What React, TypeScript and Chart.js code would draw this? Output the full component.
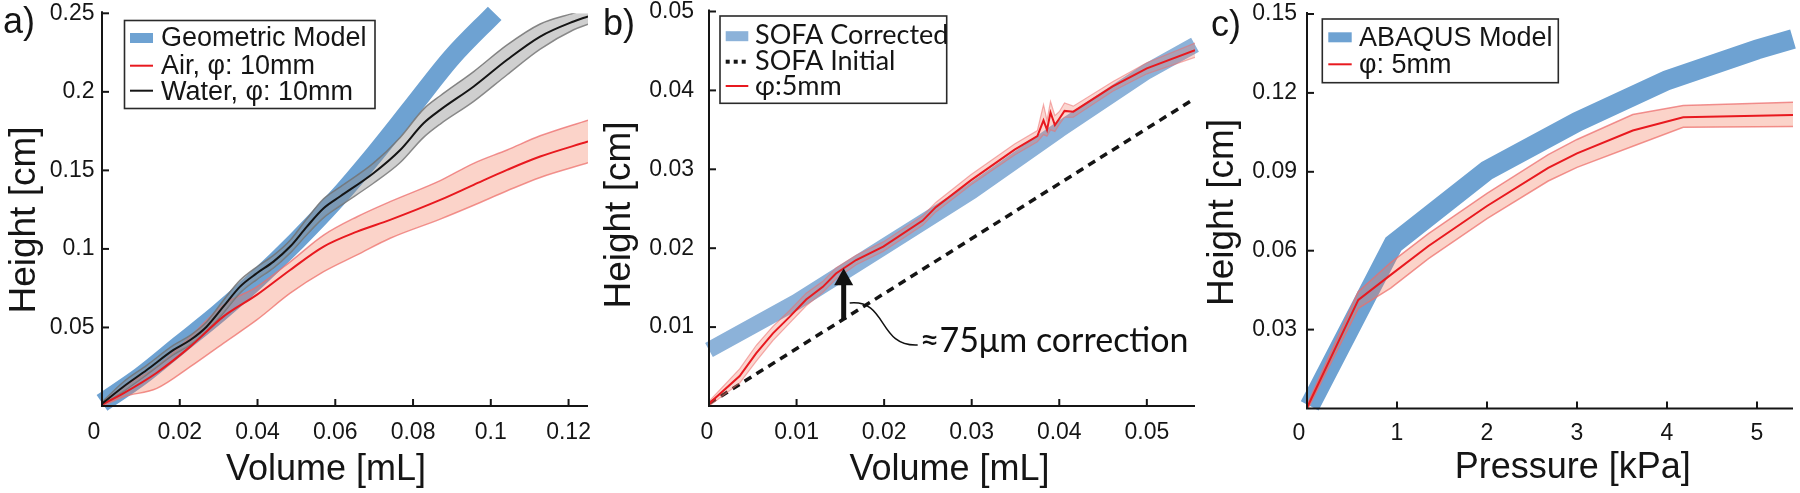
import React, { useEffect, useRef } from 'react';
import { Chart, registerables } from 'chart.js';

Chart.register(...registerables);

// ================= Panel a) =================
const A_X_TICKS = [0, 0.02, 0.04, 0.06, 0.08, 0.1, 0.12];
const A_X_LABELS = ['0', '0.02', '0.04', '0.06', '0.08', '0.1', '0.12'];
const A_Y_TICKS = [0.05, 0.1, 0.15, 0.2, 0.25];
const A_Y_LABELS = ['0.05', '0.1', '0.15', '0.2', '0.25'];

const A_GEO_X = [0, 0.01, 0.02, 0.03, 0.04, 0.05, 0.06, 0.07, 0.08, 0.09, 0.101];
const A_GEO_Y = [0.002, 0.019, 0.039, 0.059, 0.081, 0.105, 0.131, 0.16, 0.191, 0.222, 0.25];

const A_WATER_X = [0, 0.0055, 0.0115, 0.0184, 0.0227, 0.0269, 0.0312, 0.0355, 0.0398, 0.0441, 0.0484, 0.0527, 0.057, 0.0613, 0.0698, 0.0767, 0.0827, 0.087, 0.0956, 0.1042, 0.1127, 0.1213, 0.125];
const A_WATER_Y = [0.0015, 0.0123, 0.0229, 0.0357, 0.042, 0.0505, 0.0632, 0.076, 0.0845, 0.0919, 0.1015, 0.1142, 0.1259, 0.1335, 0.1482, 0.163, 0.18, 0.1885, 0.2034, 0.2204, 0.2352, 0.2448, 0.248];
const A_WATER_LO = [0.0005, 0.0093, 0.0199, 0.0327, 0.039, 0.0475, 0.0592, 0.072, 0.0805, 0.0879, 0.0975, 0.1092, 0.1199, 0.1275, 0.1418, 0.155, 0.171, 0.1795, 0.1939, 0.2109, 0.2272, 0.2395, 0.243];
const A_WATER_HI = [0.0025, 0.0153, 0.0259, 0.0387, 0.045, 0.0535, 0.0672, 0.08, 0.0885, 0.0959, 0.1055, 0.1192, 0.1319, 0.1395, 0.1546, 0.171, 0.189, 0.1975, 0.2129, 0.2299, 0.2432, 0.2501, 0.253];

const A_AIR_X = [0, 0.0055, 0.0141, 0.0227, 0.0312, 0.0398, 0.0484, 0.057, 0.0656, 0.0741, 0.087, 0.0956, 0.1042, 0.1127, 0.125];
const A_AIR_Y = [0.001, 0.0081, 0.0212, 0.0378, 0.0569, 0.0707, 0.0866, 0.1015, 0.111, 0.1185, 0.1312, 0.1408, 0.1503, 0.1588, 0.1684];
const A_AIR_LO = [0.0, 0.0059, 0.0112, 0.025, 0.0399, 0.0548, 0.0718, 0.0855, 0.0962, 0.1068, 0.119, 0.1278, 0.137, 0.1455, 0.1548];
const A_AIR_HI = [0.002, 0.0123, 0.025, 0.0441, 0.0643, 0.0759, 0.0918, 0.1088, 0.1205, 0.1301, 0.1435, 0.1545, 0.163, 0.172, 0.182];

// ================= Panel b) =================
const B_X_TICKS = [0, 0.01, 0.02, 0.03, 0.04, 0.05];
const B_X_LABELS = ['0', '0.01', '0.02', '0.03', '0.04', '0.05'];
const B_Y_TICKS = [0.01, 0.02, 0.03, 0.04, 0.05];
const B_Y_LABELS = ['0.01', '0.02', '0.03', '0.04', '0.05'];

const B_CORR_X = [0, 0.01, 0.02, 0.03, 0.04, 0.05, 0.0555];
const B_CORR_Y = [0.0071, 0.0132, 0.0202, 0.0272, 0.035, 0.0424, 0.0458];

const B_INIT_X = [0, 0.0555];
const B_INIT_Y = [0.0003, 0.039];

const B_RED_X = [0, 0.0035, 0.0054, 0.0073, 0.0092, 0.0111, 0.013, 0.0145, 0.0168, 0.0199, 0.0244, 0.0259, 0.0299, 0.0349, 0.0375, 0.0382, 0.0386, 0.039, 0.0395, 0.04, 0.0406, 0.0416, 0.0461, 0.05, 0.0555];
const B_RED_Y = [0.0003, 0.0038, 0.0067, 0.0092, 0.0113, 0.0135, 0.0151, 0.0168, 0.0185, 0.0202, 0.0235, 0.0252, 0.0286, 0.0325, 0.0342, 0.0362, 0.035, 0.0372, 0.0356, 0.0364, 0.0374, 0.0373, 0.0405, 0.0428, 0.0451];
const B_RED_LO = [0.0, 0.0029, 0.0057, 0.0083, 0.0105, 0.0127, 0.0144, 0.0161, 0.0179, 0.0196, 0.0229, 0.0246, 0.028, 0.0318, 0.0335, 0.0344, 0.0342, 0.0350, 0.0348, 0.0357, 0.0366, 0.0366, 0.0399, 0.0421, 0.0442];
const B_RED_HI = [0.0006, 0.0047, 0.0077, 0.0101, 0.0121, 0.0143, 0.0158, 0.0175, 0.0191, 0.0208, 0.0241, 0.0258, 0.0293, 0.0332, 0.0349, 0.0382, 0.0362, 0.0386, 0.0368, 0.0373, 0.0384, 0.038, 0.0411, 0.0435, 0.046];

// correction arrow (data coordinates)
const B_ARROW_X = 0.01538;
const B_ARROW_FROM = 0.0109;
const B_ARROW_TO = 0.01747;
const B_NOTE = '≈75μm correction';

// ================= Panel c) =================
const C_X_TICKS = [0, 1, 2, 3, 4, 5];
const C_X_LABELS = ['0', '1', '2', '3', '4', '5'];
const C_Y_TICKS = [0.03, 0.06, 0.09, 0.12, 0.15];
const C_Y_LABELS = ['0.03', '0.06', '0.09', '0.12', '0.15'];

const C_ABQ_X = [0.03, 0.96, 2.0, 3.0, 4.0, 5.0, 5.4];
const C_ABQ_Y = [0.001, 0.0625, 0.0905, 0.109, 0.1248, 0.1365, 0.1405];

const C_RED_X = [0, 0.57, 0.93, 1.35, 2.0, 2.68, 3.0, 3.62, 4.18, 5.4];
const C_RED_Y = [0.0003, 0.0413, 0.0508, 0.0618, 0.077, 0.0915, 0.097, 0.1057, 0.1107, 0.1116];
const C_RED_LO = [-0.0007, 0.0381, 0.0458, 0.057, 0.0722, 0.0865, 0.0917, 0.0997, 0.1069, 0.1072];
const C_RED_HI = [0.0013, 0.0444, 0.0555, 0.0665, 0.0818, 0.0965, 0.1023, 0.1118, 0.1152, 0.1164];

// ================= styles =================
const BLUE = '#6ea2d2';
const BLUE_B = '#8cb2d9';
const RED = '#e8191f';
const RED_EDGE = 'rgba(236,110,110,0.75)';
const RED_FILL = 'rgba(242,120,90,0.33)';
const GRAY_EDGE = 'rgba(115,115,115,0.85)';
const GRAY_FILL = 'rgba(140,140,140,0.42)';
const INK = '#151515';
const SANS = '"Liberation Sans", Arial, sans-serif';
const HUMANIST = 'Lato, "Open Sans", sans-serif';

const pts = (xs: number[], ys: number[]) => xs.map((x, i) => ({ x, y: ys[i] }));

type LegendItem = { kind: 'rect' | 'line' | 'dots'; color: string; text: string; cy: number; base: number };
type PanelCfg = {
  xTicks: number[]; xLabels: string[]; yTicks: number[]; yLabels: string[];
  zeroShift: number; xLabelDy: number; yLabelGap: number;
  xTitle: string; xTitlePos: [number, number];
  yTitle: string; yTitlePos: [number, number];
  letter: string; letterPos: [number, number];
  legendBox: [number, number, number, number];
  swatch: [number, number]; textX: number; legendFont: string;
  legend: LegendItem[];
  extra?: (chart: any) => void;
};

function drawPanel(chart: any, cfg: PanelCfg) {
  const ctx: CanvasRenderingContext2D = chart.ctx;
  const xs = chart.scales.x;
  const ys = chart.scales.y;
  const { left, right, top, bottom } = chart.chartArea;
  ctx.save();
  // axes
  ctx.strokeStyle = INK;
  ctx.lineWidth = 2;
  ctx.lineCap = 'butt';
  ctx.setLineDash([]);
  ctx.beginPath();
  ctx.moveTo(left, top - 2);
  ctx.lineTo(left, bottom);
  ctx.lineTo(right, bottom);
  ctx.stroke();
  cfg.xTicks.forEach((v) => {
    if (v === 0) return;
    const p = xs.getPixelForValue(v);
    ctx.beginPath();
    ctx.moveTo(p, bottom);
    ctx.lineTo(p, bottom - 7);
    ctx.stroke();
  });
  cfg.yTicks.forEach((v) => {
    const p = ys.getPixelForValue(v);
    ctx.beginPath();
    ctx.moveTo(left, p);
    ctx.lineTo(left + 7, p);
    ctx.stroke();
  });
  // tick labels
  ctx.fillStyle = INK;
  ctx.font = `23px ${SANS}`;
  ctx.textAlign = 'center';
  ctx.textBaseline = 'middle';
  cfg.xTicks.forEach((v, i) => {
    const p = xs.getPixelForValue(v) + (v === 0 ? cfg.zeroShift : 0);
    ctx.fillText(cfg.xLabels[i], p, bottom + cfg.xLabelDy);
  });
  ctx.textAlign = 'right';
  cfg.yTicks.forEach((v, i) => {
    ctx.fillText(cfg.yLabels[i], left - cfg.yLabelGap, ys.getPixelForValue(v));
  });
  // axis titles
  ctx.textAlign = 'center';
  ctx.textBaseline = 'alphabetic';
  ctx.font = `36px ${SANS}`;
  ctx.fillText(cfg.xTitle, cfg.xTitlePos[0], cfg.xTitlePos[1]);
  ctx.save();
  ctx.font = `37px ${SANS}`;
  ctx.translate(cfg.yTitlePos[0], cfg.yTitlePos[1]);
  ctx.rotate(-Math.PI / 2);
  ctx.fillText(cfg.yTitle, 0, 0);
  ctx.restore();
  // panel letter
  ctx.textAlign = 'left';
  ctx.font = `36px ${SANS}`;
  ctx.fillText(cfg.letter, cfg.letterPos[0], cfg.letterPos[1]);
  // extra annotations
  if (cfg.extra) cfg.extra(chart);
  // legend
  const [bx0, by0, bx1, by1] = cfg.legendBox;
  ctx.fillStyle = '#ffffff';
  ctx.fillRect(bx0, by0, bx1 - bx0, by1 - by0);
  ctx.strokeStyle = '#2a2a2a';
  ctx.lineWidth = 1.6;
  ctx.strokeRect(bx0, by0, bx1 - bx0, by1 - by0);
  const [sx0, sx1] = cfg.swatch;
  cfg.legend.forEach((it) => {
    ctx.save();
    if (it.kind === 'rect') {
      ctx.fillStyle = it.color;
      ctx.fillRect(sx0, it.cy - 5, sx1 - sx0, 10);
    } else if (it.kind === 'line') {
      ctx.strokeStyle = it.color;
      ctx.lineWidth = 2;
      ctx.beginPath();
      ctx.moveTo(sx0, it.cy);
      ctx.lineTo(sx1, it.cy);
      ctx.stroke();
    } else {
      ctx.strokeStyle = it.color;
      ctx.lineWidth = 4;
      ctx.setLineDash([4, 4]);
      ctx.beginPath();
      ctx.moveTo(sx0, it.cy);
      ctx.lineTo(sx1 + 1, it.cy);
      ctx.stroke();
    }
    ctx.restore();
    ctx.fillStyle = INK;
    ctx.font = cfg.legendFont;
    ctx.textAlign = 'left';
    ctx.textBaseline = 'alphabetic';
    ctx.fillText(it.text, cfg.textX, it.base);
  });
  ctx.restore();
}

const panelPlugin = {
  id: 'panel',
  afterDraw(chart: any, _args: any, opts: any) {
    drawPanel(chart, opts.cfg as PanelCfg);
  },
};

function drawCorrection(chart: any) {
  const ctx: CanvasRenderingContext2D = chart.ctx;
  const xs = chart.scales.x;
  const ys = chart.scales.y;
  const ax = xs.getPixelForValue(B_ARROW_X);
  const y0 = ys.getPixelForValue(B_ARROW_FROM);
  const y1 = ys.getPixelForValue(B_ARROW_TO);
  const headLen = 17;
  ctx.save();
  ctx.fillStyle = '#111';
  ctx.strokeStyle = '#111';
  ctx.lineWidth = 5;
  ctx.beginPath();
  ctx.moveTo(ax, y0);
  ctx.lineTo(ax, y1 + headLen - 1);
  ctx.stroke();
  ctx.beginPath();
  ctx.moveTo(ax, y1);
  ctx.lineTo(ax - 9.5, y1 + headLen);
  ctx.lineTo(ax + 9.5, y1 + headLen);
  ctx.closePath();
  ctx.fill();
  // connector curve
  const sx = ax + 6;
  const sy = y0 - 17;
  ctx.lineWidth = 1.5;
  ctx.beginPath();
  ctx.moveTo(sx, sy);
  ctx.bezierCurveTo(sx + 38, sy - 4, sx + 28, sy + 44, sx + 68, sy + 42);
  ctx.stroke();
  // note text fitted to its measured span
  let size = 32;
  ctx.font = `${size}px ${HUMANIST}`;
  const w = ctx.measureText(B_NOTE).width;
  size = size * 269 / w;
  ctx.font = `${size}px ${HUMANIST}`;
  ctx.textAlign = 'left';
  ctx.textBaseline = 'alphabetic';
  ctx.fillText(B_NOTE, sx + 70, 352);
  ctx.restore();
}

const CFG_A: PanelCfg = {
  xTicks: A_X_TICKS, xLabels: A_X_LABELS, yTicks: A_Y_TICKS, yLabels: A_Y_LABELS,
  zeroShift: -8, xLabelDy: 27, yLabelGap: 7.5,
  xTitle: 'Volume [mL]', xTitlePos: [326, 480],
  yTitle: 'Height [cm]', yTitlePos: [35, 220],
  letter: 'a)', letterPos: [3, 33],
  legendBox: [124.5, 20.5, 375, 108.5], swatch: [130, 153], textX: 161, legendFont: `27px ${SANS}`,
  legend: [
    { kind: 'rect', color: BLUE, text: 'Geometric Model', cy: 38, base: 46 },
    { kind: 'line', color: RED, text: 'Air, φ: 10mm', cy: 65.7, base: 74 },
    { kind: 'line', color: INK, text: 'Water, φ: 10mm', cy: 90.7, base: 100 },
  ],
};

const CFG_B: PanelCfg = {
  xTicks: B_X_TICKS, xLabels: B_X_LABELS, yTicks: B_Y_TICKS, yLabels: B_Y_LABELS,
  zeroShift: -2, xLabelDy: 27, yLabelGap: 15,
  xTitle: 'Volume [mL]', xTitlePos: [349.5, 480],
  yTitle: 'Height [cm]', yTitlePos: [29.7, 215],
  letter: 'b)', letterPos: [3, 35],
  legendBox: [120, 16, 346.7, 103.3], swatch: [125.7, 148.3], textX: 155, legendFont: `27px ${HUMANIST}`,
  legend: [
    { kind: 'rect', color: BLUE_B, text: 'SOFA Corrected', cy: 36.2, base: 44.3 },
    { kind: 'dots', color: INK, text: 'SOFA Initial', cy: 61.7, base: 70 },
    { kind: 'line', color: RED, text: 'φ:5mm', cy: 86, base: 95 },
  ],
  extra: drawCorrection,
};

const CFG_C: PanelCfg = {
  xTicks: C_X_TICKS, xLabels: C_X_LABELS, yTicks: C_Y_TICKS, yLabels: C_Y_LABELS,
  zeroShift: -8, xLabelDy: 25.5, yLabelGap: 10,
  xTitle: 'Pressure [kPa]', xTitlePos: [372.8, 478],
  yTitle: 'Height [cm]', yTitlePos: [32.5, 212.5],
  letter: 'c)', letterPos: [11, 36],
  legendBox: [122.3, 19, 358.3, 82.7], swatch: [128.3, 151.7], textX: 159, legendFont: `27px ${SANS}`,
  legend: [
    { kind: 'rect', color: BLUE, text: 'ABAQUS Model', cy: 37.3, base: 45.7 },
    { kind: 'line', color: RED, text: 'φ: 5mm', cy: 64.3, base: 73 },
  ],
};

const lineDs = (data: any[], color: string, width: number, extra: any = {}) => ({
  data, borderColor: color, borderWidth: width, pointRadius: 0, fill: false, ...extra,
});

const mono = { cubicInterpolationMode: 'monotone' };

const DATASETS_A = [
  lineDs(pts(A_WATER_X, A_WATER_Y), INK, 2, mono),
  lineDs(pts(A_AIR_X, A_AIR_Y), RED, 2, mono),
  lineDs(pts(A_WATER_X, A_WATER_HI), GRAY_EDGE, 1.5, { ...mono, fill: '+1', backgroundColor: GRAY_FILL }),
  lineDs(pts(A_WATER_X, A_WATER_LO), GRAY_EDGE, 1.5, mono),
  lineDs(pts(A_AIR_X, A_AIR_HI), RED_EDGE, 1.5, { ...mono, fill: '+1', backgroundColor: RED_FILL }),
  lineDs(pts(A_AIR_X, A_AIR_LO), RED_EDGE, 1.5, mono),
  lineDs(pts(A_GEO_X, A_GEO_Y), BLUE, 19, { ...mono, clip: false, borderCapStyle: 'butt' }),
];

const DATASETS_B = [
  lineDs(pts(B_RED_X, B_RED_Y), RED, 2),
  lineDs(pts(B_RED_X, B_RED_HI), 'rgba(236,110,110,0.55)', 1.2, { fill: '+1', backgroundColor: 'rgba(242,120,100,0.3)' }),
  lineDs(pts(B_RED_X, B_RED_LO), 'rgba(236,110,110,0.55)', 1.2),
  lineDs(pts(B_INIT_X, B_INIT_Y), INK, 3.5, { borderDash: [8, 6] }),
  lineDs(pts(B_CORR_X, B_CORR_Y), BLUE_B, 16, { clip: false, borderCapStyle: 'butt' }),
];

const DATASETS_C = [
  lineDs(pts(C_RED_X, C_RED_Y), RED, 2, { clip: false }),
  lineDs(pts(C_RED_X, C_RED_HI), RED_EDGE, 1.5, { fill: '+1', backgroundColor: RED_FILL }),
  lineDs(pts(C_RED_X, C_RED_LO), RED_EDGE, 1.5),
  lineDs(pts(C_ABQ_X, C_ABQ_Y), BLUE, 20, { clip: false, borderCapStyle: 'butt' }),
];

type PanelProps = {
  left: number; cfg: PanelCfg; datasets: any[];
  xMax: number; yMax: number;
  yAxisW: number; xAxisH: number; padTop: number; padRight: number;
};

function Panel(p: PanelProps) {
  const ref = useRef<HTMLCanvasElement>(null);
  useEffect(() => {
    const chart = new Chart(ref.current as HTMLCanvasElement, {
      type: 'line',
      data: { datasets: p.datasets as any },
      plugins: [panelPlugin as any],
      options: {
        responsive: false,
        animation: false,
        devicePixelRatio: 1,
        events: [],
        layout: { padding: { left: 0, right: p.padRight, top: p.padTop, bottom: 0 } },
        elements: { line: { tension: 0 }, point: { radius: 0 } },
        plugins: {
          legend: { display: false },
          tooltip: { enabled: false },
          panel: { cfg: p.cfg },
        } as any,
        scales: {
          x: {
            type: 'linear', position: 'bottom', min: 0, max: p.xMax,
            grid: { display: false }, border: { display: false }, ticks: { display: false },
            afterFit: (s: any) => { s.height = p.xAxisH; },
          },
          y: {
            type: 'linear', position: 'left', min: 0, max: p.yMax,
            grid: { display: false }, border: { display: false }, ticks: { display: false },
            afterFit: (s: any) => { s.width = p.yAxisW; },
          },
        },
      } as any,
    });
    return () => chart.destroy();
  }, []);
  return (
    <canvas
      ref={ref}
      width={600}
      height={493}
      style={{ position: 'absolute', left: p.left, top: 0, width: 600, height: 493 }}
    />
  );
}

export default function App() {
  return (
    <div style={{ position: 'absolute', left: 0, top: 0, width: 1800, height: 493, background: '#fff' }}>
      <Panel left={0} cfg={CFG_A} datasets={DATASETS_A} xMax={0.125} yMax={0.25}
        yAxisW={102} xAxisH={87} padTop={13.3} padRight={12} />
      <Panel left={600} cfg={CFG_B} datasets={DATASETS_B} xMax={0.0555} yMax={0.05}
        yAxisW={109} xAxisH={87} padTop={11.5} padRight={5} />
      <Panel left={1200} cfg={CFG_C} datasets={DATASETS_C} xMax={5.4} yMax={0.15}
        yAxisW={107} xAxisH={84.5} padTop={14} padRight={7} />
    </div>
  );
}
